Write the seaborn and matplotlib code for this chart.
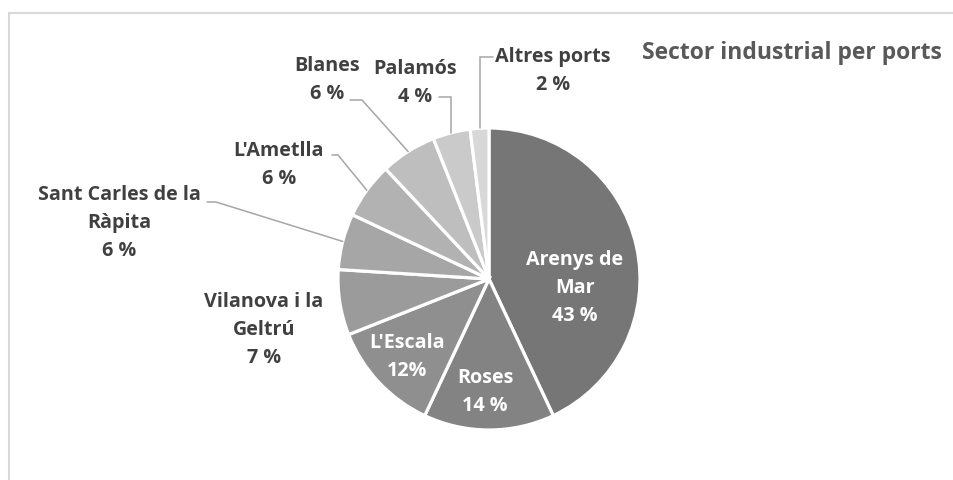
import matplotlib
matplotlib.use("Agg")
import matplotlib.pyplot as plt
import seaborn as sns
import numpy as np
from matplotlib.patches import Rectangle

# ---- data ----
ports = ["Arenys de\nMar", "Roses", "L'Escala", "Vilanova i la\nGeltrú",
         "Sant Carles de la\nRàpita", "L'Ametlla", "Blanes", "Palamós", "Altres ports"]
shares = [43, 14, 12, 7, 6, 6, 6, 4, 2]
pct_labels = ["43 %", "14 %", "12%", "7 %", "6 %", "6 %", "6 %", "4 %", "2 %"]
title = "Sector industrial per ports"

# ---- style ----
colors = ["#767676", "#838383", "#8f8f8f", "#9b9b9b", "#a6a6a6",
          "#b2b2b2", "#bebebe", "#cacaca", "#d8d8d8"]
sns.set_theme(style="white")
plt.rcParams['font.family'] = ['Open Sans', 'DejaVu Sans']

W, H = 954, 480
fig = plt.figure(figsize=(9.54, 4.8), dpi=100)
ax = fig.add_axes([0, 0, 1, 1])

cx, cy, R = 489, H - 279, 151
wedges, _ = ax.pie(shares, colors=colors, startangle=90, counterclock=False,
                   center=(cx, cy), radius=R,
                   wedgeprops=dict(edgecolor='white', linewidth=2.3))
ax.set_xlim(0, W)
ax.set_ylim(0, H)
ax.axis('off')

# frame border (top & left visible)
ax.add_patch(Rectangle((9.5, -20), W + 20, H - 13 + 20, fill=False,
                       edgecolor='#d9d9d9', linewidth=1.5, clip_on=False))

fs = 14.2
lsp = 1.53
inside = {0: (575, 288), 1: (485, 392), 2: (407, 357)}
outside = {3: (264, 330), 4: (119, 223), 5: (279, 165), 6: (327, 80),
           7: (415, 83), 8: (553, 71)}
# leader start points (label side) in px: (x_start, x_elbow, y)
leaders = {4: (207, 216, 202), 5: (332, 338, 155), 6: (350, 362, 100),
           7: (439, None, 97), 8: (493, None, 57)}

for i, (name, pl) in enumerate(zip(ports, pct_labels)):
    txt = f"{name}\n{pl}"
    if i in inside:
        x, y = inside[i]
        ax.text(x, H - y, txt, ha='center', va='center', fontsize=fs,
                fontweight='bold', color='white', linespacing=lsp)
    else:
        x, y = outside[i]
        ax.text(x, H - y, txt, ha='center', va='center', fontsize=fs,
                fontweight='bold', color='#404040', linespacing=lsp)

# leader lines to the middle of each wedge's outer edge
cum = np.cumsum([0] + shares)
tot = sum(shares)
for i, (xs, xe, yl) in leaders.items():
    mid = (cum[i] + cum[i + 1]) / 2 / tot * 2 * np.pi
    axp = cx + R * np.sin(mid)
    ayp = cy + R * np.cos(mid)
    if xe is None:
        xe = axp
    ax.plot([xs, xe, axp], [H - yl, H - yl, ayp], color='#a6a6a6', lw=1.1,
            solid_joinstyle='miter')

ax.text(642, H - 53, title, ha='left', va='center', fontsize=16.5,
        fontweight='bold', color='#595959')

fig.savefig("out.png", dpi=100, facecolor='white')
